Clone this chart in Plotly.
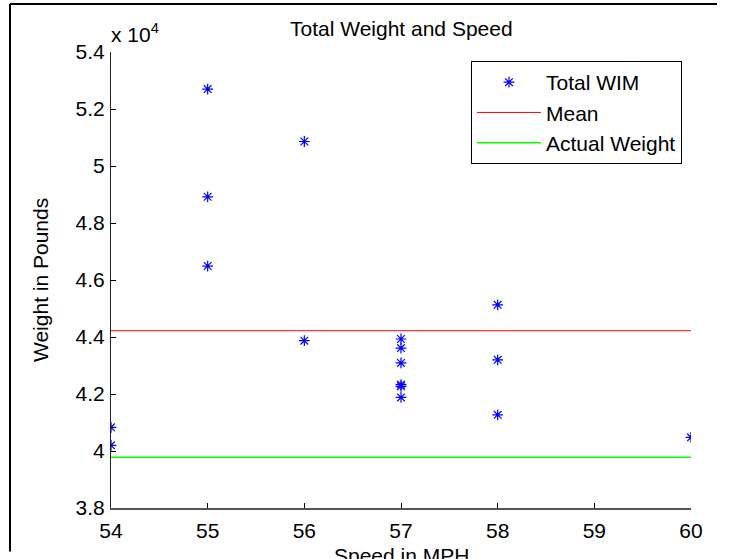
import plotly.graph_objects as go

# Data
speed_mph = [54, 54, 55, 55, 55, 56, 56, 57, 57, 57, 57, 57, 57, 58, 58, 58, 60]
total_wim = [40830, 40200, 52700, 48920, 46490, 50860, 43870,
             43930, 43610, 43090, 42330, 42270, 41880,
             45130, 43200, 41270, 40480]
mean_weight = 44220
actual_weight = 39780
x_range = [54, 60]
y_range = [38000, 54000]
x_ticks = [54, 55, 56, 57, 58, 59, 60]
y_ticks = [38000, 40000, 42000, 44000, 46000, 48000, 50000, 52000, 54000]
y_tick_labels = ["3.8", "4", "4.2", "4.4", "4.6", "4.8", "5", "5.2", "5.4"]

FONT = "Liberation Sans, Arial, sans-serif"
FS = 21

fig = go.Figure()
fig.add_trace(go.Scatter(
    x=speed_mph, y=total_wim, mode="markers", name="Total WIM",
    marker=dict(symbol="asterisk-open", size=9, color="blue",
                line=dict(color="blue", width=1.2)),
))
fig.add_trace(go.Scatter(
    x=x_range, y=[mean_weight, mean_weight], mode="lines", name="Mean",
    line=dict(color="red", width=1),
))
fig.add_trace(go.Scatter(
    x=x_range, y=[actual_weight, actual_weight], mode="lines", name="Actual Weight",
    line=dict(color="#00ff00", width=1.3),
))

L, R, T, B = 111, 57, 52, 50.5
W, H = 748, 559
pw = W - L - R
ph = H - T - B

def px(x):
    return (x - L) / pw

def py(y):
    return (H - B - y) / ph

fig.update_layout(
    width=W, height=H,
    margin=dict(l=L, r=R, t=T, b=B, pad=0),
    paper_bgcolor="white", plot_bgcolor="white",
    font=dict(family=FONT, size=FS, color="black"),
    showlegend=True,
    legend=dict(
        x=px(682), y=py(61), xanchor="right", yanchor="top",
        bordercolor="black", borderwidth=1, bgcolor="white",
        font=dict(family=FONT, size=FS, color="black"),
        itemwidth=64, tracegroupgap=0,
    ),
    xaxis=dict(
        range=x_range, tickvals=x_ticks, ticks="inside", ticklen=5,
        tickcolor="black", showline=True, linecolor="#555555", linewidth=1.5,
        showgrid=False, zeroline=False, mirror=False,
        tickfont=dict(family=FONT, size=FS, color="black"),
        ticklabelstandoff=3,
    ),
    yaxis=dict(
        range=y_range, tickvals=y_ticks, ticktext=y_tick_labels,
        ticks="inside", ticklen=5, tickcolor="black",
        showline=True, linecolor="#222222", linewidth=1,
        showgrid=False, zeroline=False, mirror=False,
        tickfont=dict(family=FONT, size=FS, color="black"),
        ticklabelstandoff=1,
    ),
    annotations=[
        dict(text="Total Weight and Speed", x=0.5, y=py(28), xref="paper", yref="paper",
             xanchor="center", yanchor="middle", showarrow=False,
             font=dict(family=FONT, size=FS, color="black")),
        dict(text="x 10<sup>4</sup>", x=px(109), y=py(33), xref="paper", yref="paper",
             xanchor="left", yanchor="middle", showarrow=False,
             font=dict(family=FONT, size=FS, color="black")),
        dict(text="Weight in Pounds", x=px(40), y=0.5, xref="paper", yref="paper",
             xanchor="center", yanchor="middle", textangle=-90, showarrow=False,
             font=dict(family=FONT, size=FS, color="black")),
        dict(text="Speed in MPH", x=0.5, y=py(556), xref="paper", yref="paper",
             xanchor="center", yanchor="middle", showarrow=False,
             font=dict(family=FONT, size=FS, color="black")),
    ],
    shapes=[
        dict(type="line", xref="paper", yref="paper", x0=px(10), x1=px(10),
             y0=py(4), y1=py(552), line=dict(color="black", width=2)),
        dict(type="line", xref="paper", yref="paper", x0=px(10), x1=px(717),
             y0=py(4), y1=py(4), line=dict(color="black", width=2)),
    ],
)

fig.write_html("out.html", config={"displayModeBar": False},
               post_script="document.body.style.margin='0';")
